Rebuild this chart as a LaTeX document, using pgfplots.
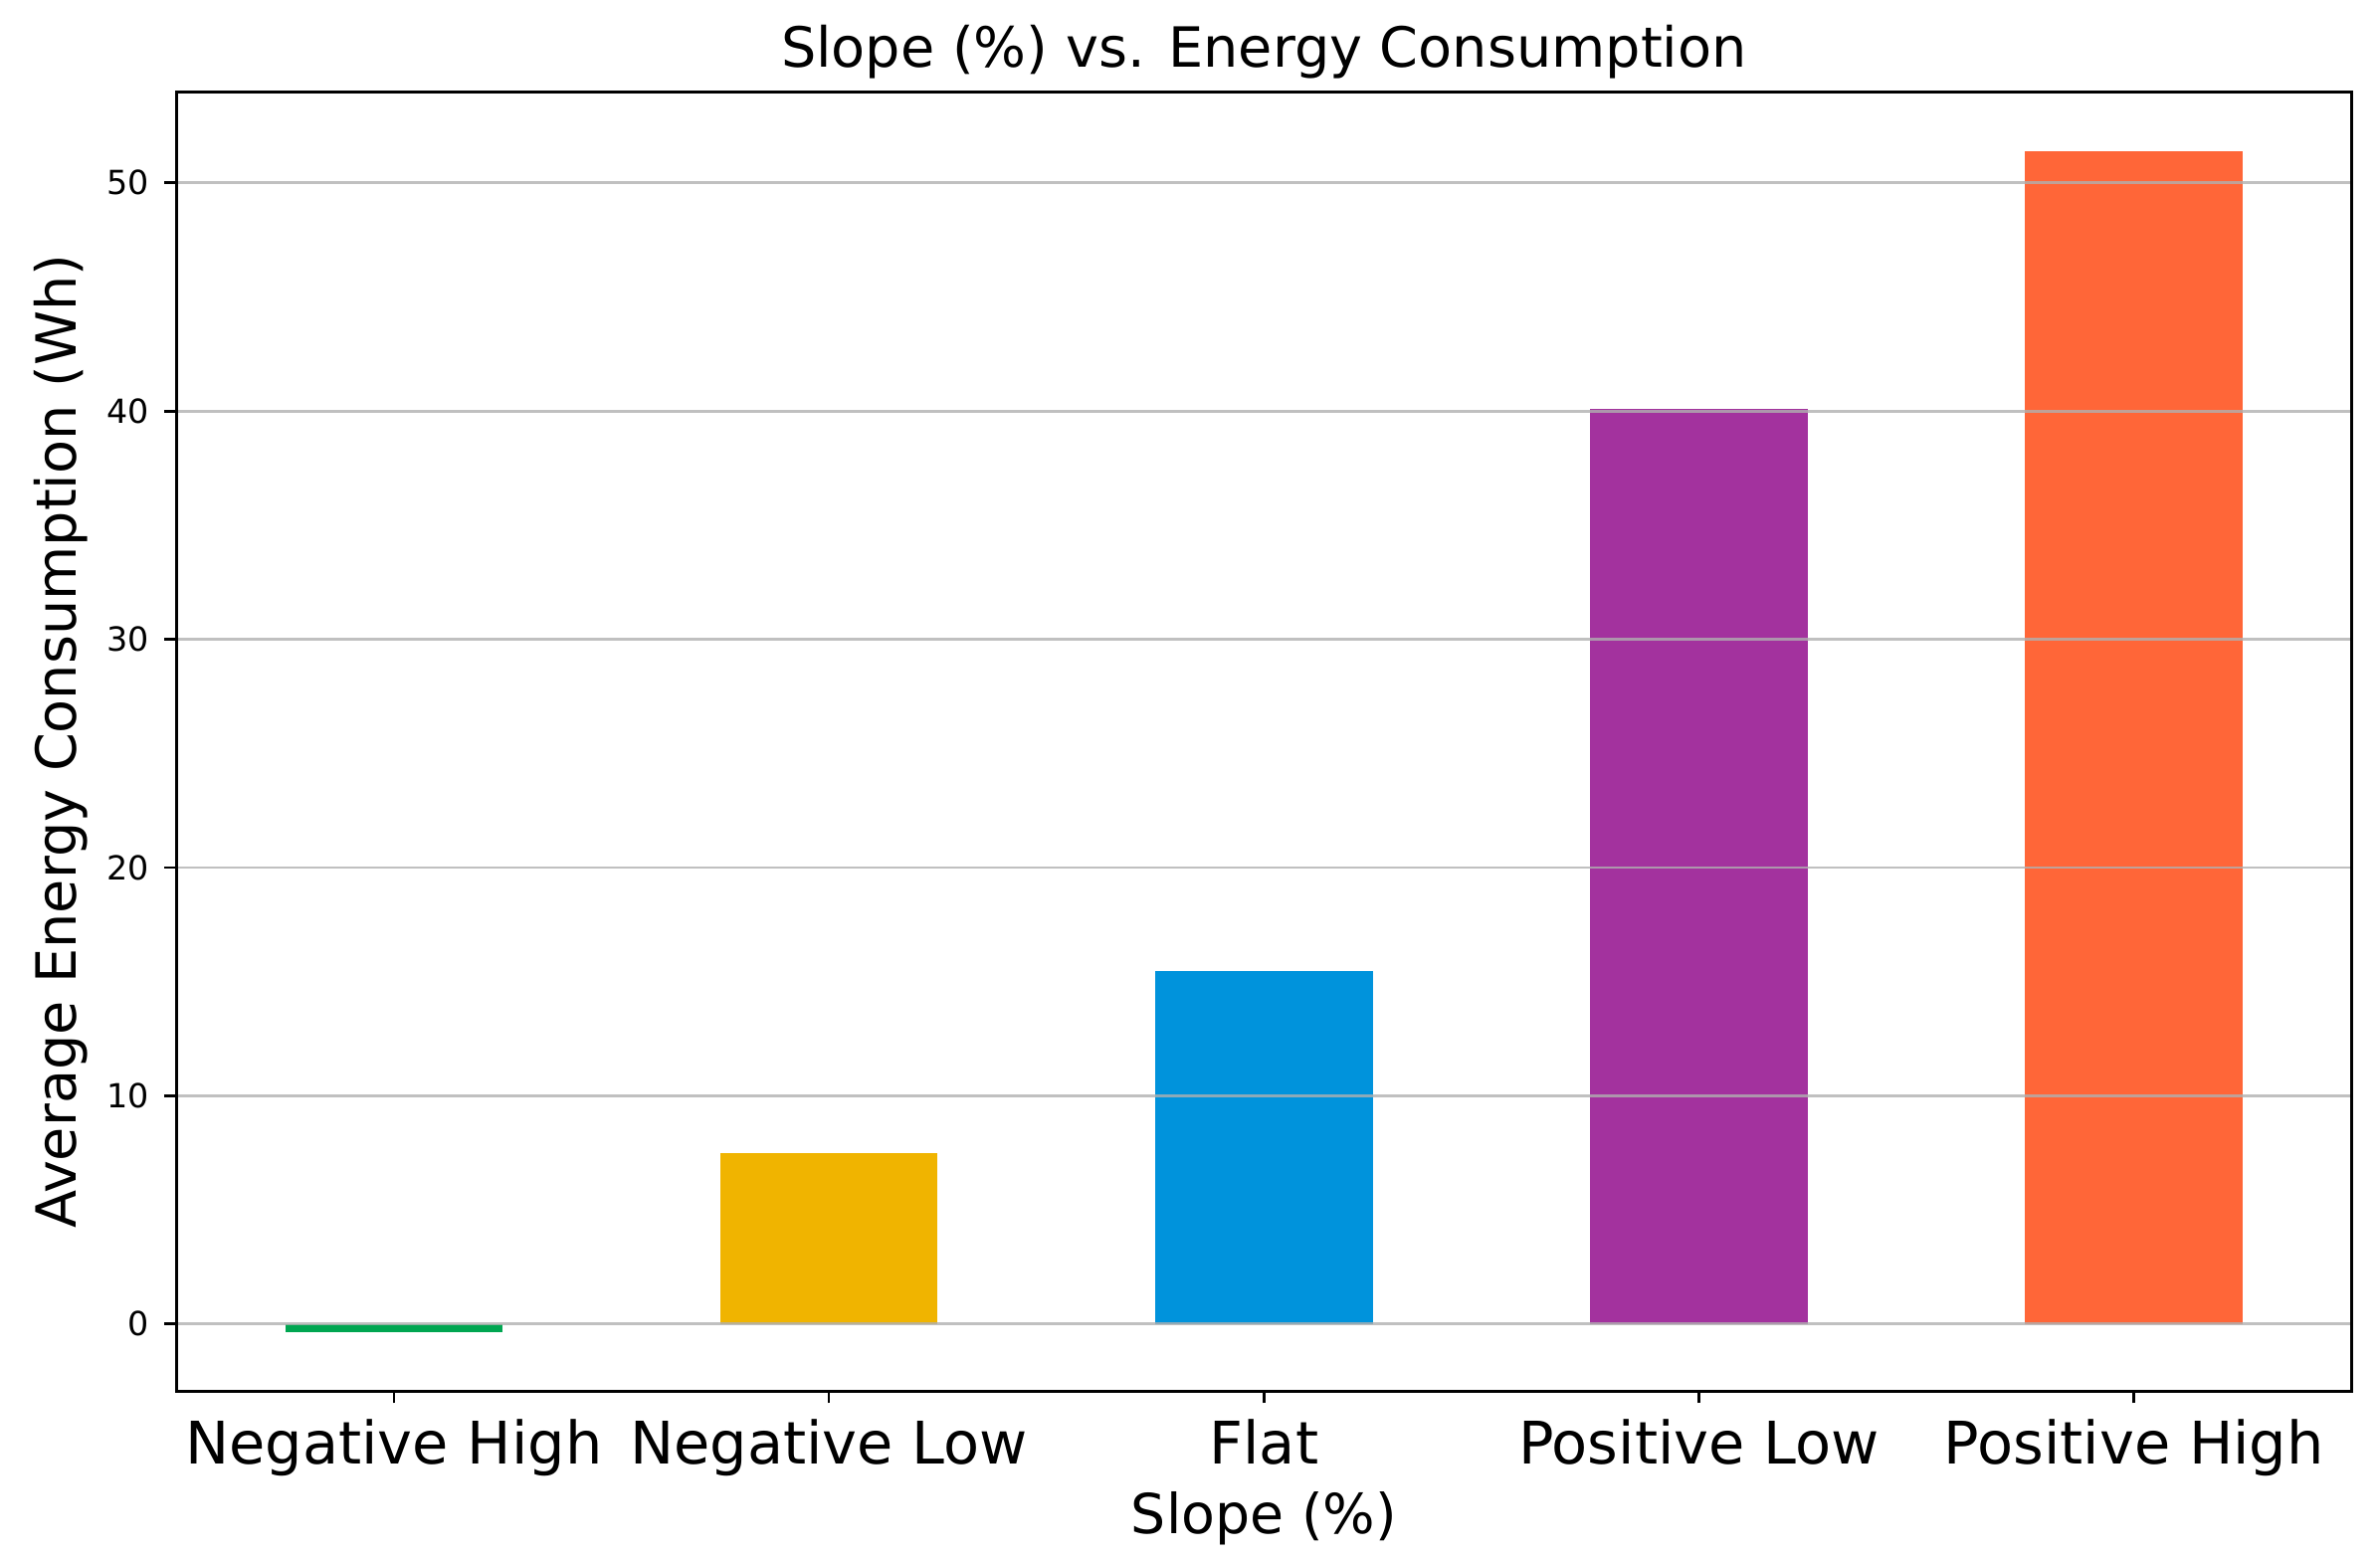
\documentclass[border=0pt]{standalone}
\usepackage{fontspec}
\setmainfont{DejaVu Sans}
\usepackage{pgfplots}
\pgfplotsset{compat=1.18}
\usetikzlibrary{calc}
\definecolor{cgreen}{HTML}{00A651}
\definecolor{cgold}{HTML}{F0B400}
\definecolor{cblue}{HTML}{0093DC}
\definecolor{cpurple}{HTML}{A3329E}
\definecolor{corange}{HTML}{FF6638}
\definecolor{gridgray}{HTML}{B0B0B0}
\begin{document}
\begin{tikzpicture}
\begin{axis}[
  scale only axis,
  width=655.8pt, height=391.8pt,
  xmin=-0.5, xmax=4.5, ymin=-2.95, ymax=53.99,
  xtick={0,1,2,3,4},
  xticklabels={Negative High,Negative Low,Flat,Positive Low,Positive High},
  ytick={0,10,20,30,40,50},
  axis line style={line width=0.9pt, black},
  tick align=outside,
  major tick length=3.6pt,
  tick style={line width=0.8pt, black},
  xtick pos=lower, ytick pos=left,
  ymajorgrids, xmajorgrids=false,
  major grid style={color=gridgray, line width=0.8pt, opacity=0.8},
  axis on top,
  /pgf/number format/assume math mode=true,
  yticklabel style={font=\fontsize{10}{12}\selectfont, anchor=east, inner sep=0pt, xshift=-4.5pt},
  xticklabel style={font=\fontsize{17.7}{20}\selectfont, anchor=base, inner sep=0pt, yshift=-18.5pt},
  title={Slope (\%) vs. Energy Consumption},
  title style={font=\fontsize{16.7}{20}\selectfont, at={(axis description cs:0.5,1)}, anchor=south, inner sep=0pt, yshift=-2.2pt},
  xlabel={Slope (\%)},
  xlabel style={font=\fontsize{16.6}{20}\selectfont, at={(axis description cs:0.5,0)}, anchor=base, inner sep=0pt, yshift=-43.1pt},
  ylabel={Average Energy Consumption (Wh)},
  ylabel style={font=\fontsize{16.7}{20}\selectfont, at={(axis description cs:-0.0659,0.5)}, anchor=north, inner sep=0pt, rotate=0},
]
\addplot[ybar, bar width=0.5, bar shift=0pt, fill=cgreen, draw=none] coordinates {(0,-0.36)};
\addplot[ybar, bar width=0.5, bar shift=0pt, fill=cgold, draw=none] coordinates {(1,7.48)};
\addplot[ybar, bar width=0.5, bar shift=0pt, fill=cblue, draw=none] coordinates {(2,15.45)};
\addplot[ybar, bar width=0.5, bar shift=0pt, fill=cpurple, draw=none] coordinates {(3,40.1)};
\addplot[ybar, bar width=0.5, bar shift=0pt, fill=corange, draw=none] coordinates {(4,51.4)};
\end{axis}
\pgfresetboundingbox
\path[use as bounding box] ($(current axis.south west)+(-53.2pt,-51.2pt)$) rectangle ($(current axis.north east)+(8.6pt,27.7pt)$);
\end{tikzpicture}
\end{document}
